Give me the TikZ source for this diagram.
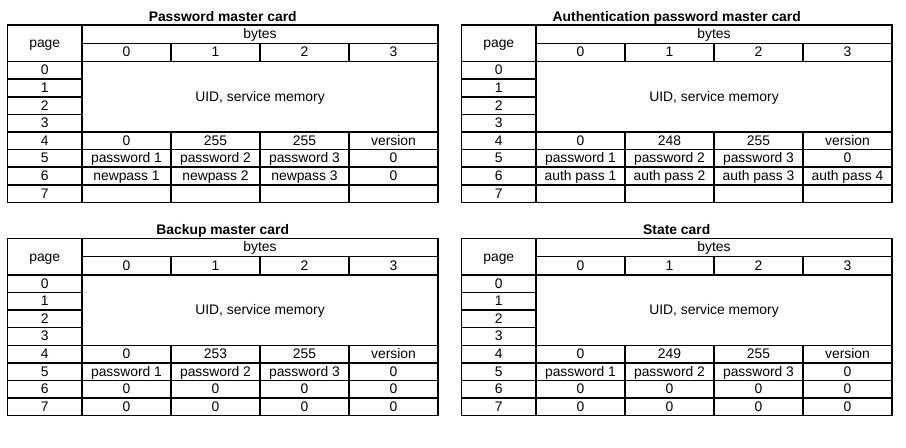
\documentclass[tikz,border=0pt]{standalone}
\usepackage{fontspec}
\setmainfont{Liberation Sans}
\usepackage{tikz}

\begin{document}
\begin{tikzpicture}[x=0.75pt, y=-0.75pt, line width=1.1pt,
    cell/.style={inner sep=0pt, text height=7.6pt, text depth=0.9pt,
      font=\fontsize{10.4}{12}\selectfont},
    cardtitle/.style={cell, font=\fontsize{10.4}{12}\selectfont\bfseries}]
    \useasboundingbox (0, 0) rectangle (906, 447);

    % the four cards share one grid
    \foreach \t/\ox/\oy/\k/\title in {a/0/0/255/Password master card,
        b/454/0/248/Authentication password master card,
        c/0/213.3/253/Backup master card, d/454/213.3/249/State card} {
      \begin{scope}[shift={(\ox, \oy)}]
        \draw (7.5, 25) rectangle (438, 202.4);
        \draw (82, 25) -- (82, 202.4);
        \draw (82, 43.3) -- (438, 43.3);
        \draw (7.5, 61.6) -- (438, 61.6);
        \foreach \y in {79.2, 96.8, 114.4}
          \draw (7.5, \y) -- (82, \y);
        \foreach \y in {132, 149.6, 167.2, 184.8}
          \draw (7.5, \y) -- (438, \y);
        \foreach \x in {171, 260, 349} {
          \draw (\x, 43.3) -- (\x, 61.6);
          \draw (\x, 132) -- (\x, 202.4);
        }

        \node [cardtitle] (\t-title) at (222.75, 17.1) {\title};
        \node [cell] (\t-page) at (44.75, 43.3) {page};
        \node [cell] (\t-bytes) at (260, 34.2) {bytes};
        \foreach \c [count=\i from 0] in {126.5, 215.5, 304.5, 393.5}
          \node [cell] (\t-byte\i) at (\c, 52.5) {\i};
        \foreach \p in {0,...,7}
          \node [cell] (\t-row\p) at (44.75, {70.4+17.6*\p}) {\p};
        \node [cell] (\t-uid) at (260, 96.8) {UID, service memory};
      \end{scope}

      \node [cell] (\t-r4c0) at (\t-byte0 |- \t-row4) {0};
      \node [cell] (\t-r4c1) at (\t-byte1 |- \t-row4) {\k};
      \node [cell] (\t-r4c2) at (\t-byte2 |- \t-row4) {255};
      \node [cell] (\t-r4c3) at (\t-byte3 |- \t-row4) {version};
      \foreach \i [count=\n] in {0, 1, 2}
        \node [cell] (\t-r5c\i) at (\t-byte\i |- \t-row5) {password \n};
      \node [cell] (\t-r5c3) at (\t-byte3 |- \t-row5) {0};
    }

    % page 6 and 7
    \foreach \i [count=\n] in {0, 1, 2}
      \node [cell] (a-r6c\i) at (a-byte\i |- a-row6) {newpass \n};
    \node [cell] (a-r6c3) at (a-byte3 |- a-row6) {0};
    \foreach \i [count=\n] in {0, 1, 2, 3}
      \node [cell] (b-r6c\i) at (b-byte\i |- b-row6) {auth pass \n};
    \foreach \t in {c, d}
      \foreach \r in {6, 7}
        \foreach \i in {0, 1, 2, 3}
          \node [cell] (\t-r\r c\i) at (\t-byte\i |- \t-row\r) {0};
\end{tikzpicture}
\end{document}
